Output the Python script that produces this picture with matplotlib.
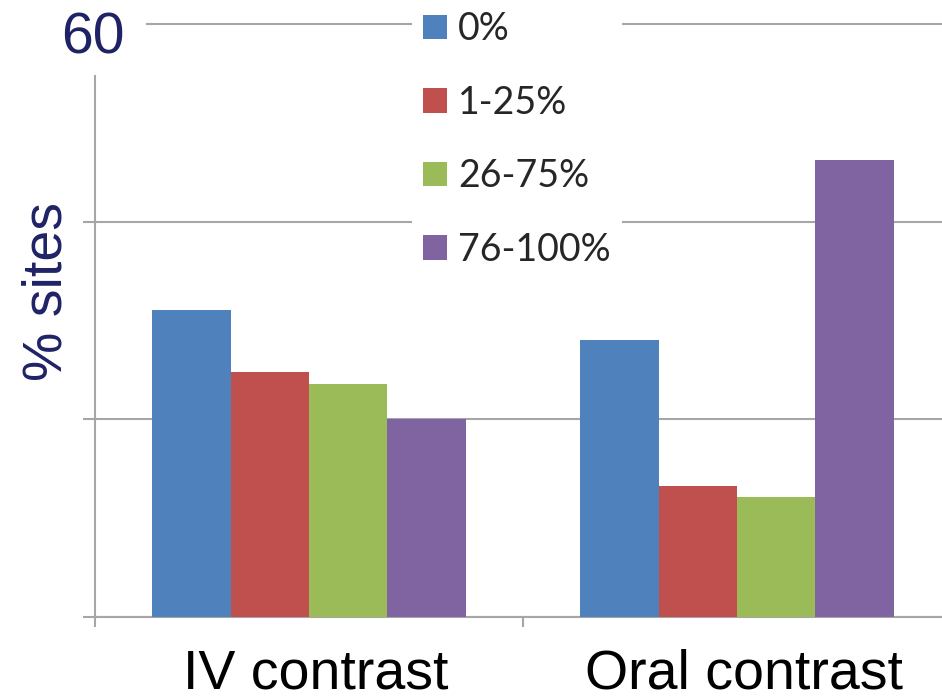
import matplotlib.pyplot as plt
import matplotlib.transforms as mtransforms
import numpy as np
from matplotlib.patches import Patch

# data
categories = ['IV contrast', 'Oral contrast']
series_labels = ['0%', '1-25%', '26-75%', '76-100%']
pct_0 = [31.1, 28.0]
pct_1_25 = [24.8, 13.3]
pct_26_75 = [23.6, 12.1]
pct_76_100 = [20.0, 46.2]
series_values = [pct_0, pct_1_25, pct_26_75, pct_76_100]
colors = ['#4F81BD', '#C0504D', '#9BBB59', '#8064A2']

grid_col = '#a6a6a6'
navy = '#1f2366'

fig = plt.figure(figsize=(9.42, 6.99), dpi=100)
ax = fig.add_axes([95 / 942, 82 / 699, 856 / 942, 593 / 699])

centers = np.arange(len(categories)) + 0.5
w = 0.183
for k, (vals, col) in enumerate(zip(series_values, colors)):
    ax.bar(centers + (k - 1.5) * w, vals, width=w, color=col, zorder=3)

ax.set_xlim(0, 2)
ax.set_ylim(0, 60)

# gridlines + top line (left part of top line left open for the "60")
ax.set_yticks([0, 20, 40])
ax.set_yticklabels([])
ax.yaxis.grid(True, color=grid_col, lw=1.5, zorder=0)
ax.axhline(60, xmin=(147 - 95) / 856, color=grid_col, lw=1.5, zorder=0,
           clip_on=False)
ax.tick_params(axis='y', length=9, width=1.5, color=grid_col)

ax.set_xticks(centers)
ax.set_xticklabels(categories, fontsize=40, family='Liberation Sans')
ax.set_xticks([0, 1, 2], minor=True)
ax.tick_params(axis='x', which='major', length=0, pad=23)
ax.tick_params(axis='x', which='minor', length=7, width=1.5, color=grid_col)
# nudge category labels a little to the right
shift = mtransforms.ScaledTranslation(7 / 100, 0, fig.dpi_scale_trans)
for lbl in ax.get_xticklabels():
    lbl.set_transform(lbl.get_transform() + shift)

for s in ['top', 'right']:
    ax.spines[s].set_visible(False)
for s in ['left', 'bottom']:
    ax.spines[s].set_color(grid_col)
    ax.spines[s].set_linewidth(1.5)
ax.spines['left'].set_bounds(0, 54.7)

fig.text(125 / 942, 1 - 53 / 699, '60', ha='right', va='baseline',
         fontsize=41, color=navy, family='Liberation Sans')
fig.text(62 / 942, 1 - 292 / 699, '% sites', rotation=90,
         rotation_mode='anchor', ha='center', va='baseline',
         fontsize=40, color=navy, family='Liberation Sans')

handles = [Patch(facecolor=c) for c in colors]
leg = fig.legend(handles, series_labels, loc='upper left',
                 bbox_to_anchor=(412 / 942, 1.0), frameon=True,
                 facecolor='white', edgecolor='none', framealpha=1,
                 fancybox=False, prop={'family': 'Lato', 'size': 27},
                 handlelength=0.64, handleheight=0.64, handletextpad=0.28,
                 labelspacing=1.0, borderpad=0.3, borderaxespad=0)
for t in leg.get_texts():
    t.set_color('#262626')

fig.savefig('out.png', dpi=100)
